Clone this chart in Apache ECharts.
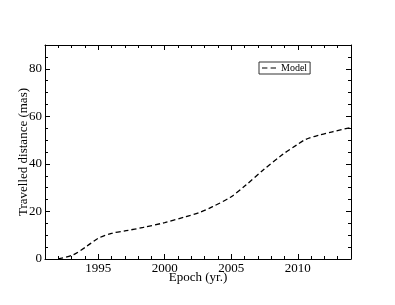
<!DOCTYPE html>
<html><head><meta charset="utf-8">
<script src="https://cdn.jsdelivr.net/npm/echarts@6/dist/echarts.min.js"></script>
<style>html,body{margin:0;padding:0;background:#fff}#c{width:395px;height:305px}</style>
</head><body><div id="c"></div>
<script>
const epochs = [1992.0, 1993.1, 1994.1, 1995.0, 1996.0, 1997.1, 1998.4, 2000.0, 2001.6, 2002.6, 2003.6, 2005.0, 2006.1, 2007.4, 2008.8, 2009.9, 2010.6, 2011.6, 2012.6, 2014.0];
const distance = [0.0, 1.7, 5.2, 8.7, 10.8, 11.9, 13.3, 15.3, 17.8, 19.5, 22.0, 26.2, 31.1, 37.4, 43.7, 47.9, 50.3, 52.1, 53.5, 55.3];
const xTicks = [1995, 2000, 2005, 2010];
const yTicks = [0, 20, 40, 60, 80];
const seriesName = 'Model';

const FONT = 'Liberation Serif';
const grid = {left: 45, right: 44, top: 45, bottom: 46, containLabel: false, outerBoundsMode: 'none'};
const lineStyle = {color: '#000', width: 1};
function minorX(pos) {
  return {type: 'value', position: pos, min: 1991, max: 2014, interval: 1,
    axisLine: {show: true, onZero: false, lineStyle}, axisTick: {show: true, inside: true, length: 3, lineStyle},
    axisLabel: {show: false}, splitLine: {show: false}};
}
function majorX(pos, labels) {
  return {type: 'value', position: pos, min: 1991, max: 2014,
    axisLine: {show: false, onZero: false}, axisTick: {show: true, inside: true, length: 5, customValues: xTicks, lineStyle},
    axisLabel: labels ? {show: true, customValues: xTicks, formatter: v => String(v), color: '#000', fontFamily: FONT, fontSize: 13, margin: 3} : {show: false},
    name: labels ? 'Epoch (yr.)' : '', nameLocation: 'middle', nameGap: 12, nameMoveOverlap: false,
    nameTextStyle: {color: '#000', fontFamily: FONT, fontSize: 13},
    splitLine: {show: false}};
}
function minorY(pos) {
  return {type: 'value', position: pos, min: 0, max: 90, interval: 5,
    axisLine: {show: true, onZero: false, lineStyle}, axisTick: {show: true, inside: true, length: 3, lineStyle},
    axisLabel: {show: false}, splitLine: {show: false}};
}
function majorY(pos, labels) {
  return {type: 'value', position: pos, min: 0, max: 90,
    axisLine: {show: false, onZero: false}, axisTick: {show: true, inside: true, length: 5, customValues: yTicks, lineStyle},
    axisLabel: labels ? {show: true, customValues: yTicks, formatter: v => String(v), color: '#000', fontFamily: FONT, fontSize: 13, margin: 3} : {show: false},
    name: labels ? 'Travelled distance (mas)' : '', nameLocation: 'middle', nameGap: 15, nameRotate: 90, nameMoveOverlap: false,
    nameTextStyle: {color: '#000', fontFamily: FONT, fontSize: 13},
    splitLine: {show: false}};
}
const chart = echarts.init(document.getElementById('c'), null, {renderer: 'canvas'});
chart.setOption({
  backgroundColor: '#fff',
  animation: false,
  grid,
  legend: {
    left: 259, top: 62, padding: [1, 3], borderColor: '#333', borderWidth: 1, borderRadius: 0,
    itemWidth: 14, itemHeight: 8, itemGap: 4,
    textStyle: {color: '#000', fontFamily: FONT, fontSize: 10},
    data: [{name: seriesName, icon: 'path://M0,0L5,0L5,1L0,1Z M8,0L13,0L13,1L8,1Z'}]
  },
  xAxis: [minorX('bottom'), majorX('bottom', true), minorX('top'), majorX('top', false)],
  yAxis: [minorY('left'), majorY('left', true), minorY('right'), majorY('right', false)],
  series: [{
    name: seriesName, type: 'line', xAxisIndex: 0, yAxisIndex: 0,
    data: epochs.map((e, i) => [e, distance[i]]),
    smooth: 0.3, symbol: 'none',
    lineStyle: {color: '#000', width: 1.3, type: [5, 3]},
    itemStyle: {color: '#000'}
  }]
});
</script></body></html>
